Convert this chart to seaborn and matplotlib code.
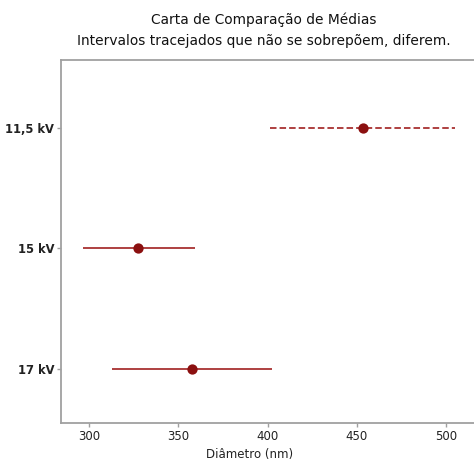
import matplotlib
matplotlib.use("Agg")
import matplotlib.pyplot as plt
import seaborn as sns
import pandas as pd

# Mean fibre diameter per voltage with confidence intervals
groups = ["11,5 kV", "15 kV", "17 kV"]
means = [453.2, 327.6, 357.4]
lower = [401.6, 296.8, 312.6]
upper = [505.2, 359.2, 402.6]
styles = [(0, (3.6, 1.7)), "-", "-"]

df = pd.DataFrame({"grupo": groups, "media": means, "inf": lower, "sup": upper})

sns.set_theme(style="white")
plt.rcParams["font.family"] = ["DejaVu Sans"]

fig = plt.figure(figsize=(4.74, 4.62), dpi=100)
ax = fig.add_axes([0.1287, 0.0844, 0.8713, 0.7856])

line_color = "#a83232"
point_color = "#8b1010"

ypos = list(range(len(groups)))
for y, lo, hi, ls in zip(ypos, df["inf"], df["sup"], styles):
    ax.hlines(y, lo, hi, colors=line_color, linestyles=[ls], linewidth=1.3,
              zorder=2)

sns.scatterplot(x=df["media"], y=ypos, ax=ax, color=point_color, s=55,
                edgecolor=point_color, linewidth=0, zorder=3, legend=False)

ax.set_yticks(ypos)
ax.set_yticklabels(groups, fontsize=8.3, fontweight="bold", color="#222222")
ax.set_ylim(2.45, -0.565)
ax.set_xlim(284.3, 515.6)
ax.set_xticks([300, 350, 400, 450, 500])
ax.set_xticklabels(["300", "350", "400", "450", "500"], fontsize=8.5,
                   color="#222222")
ax.set_xlabel("Diâmetro (nm)", fontsize=8.5, color="#222222", labelpad=2)
ax.xaxis.set_label_coords(0.456, -0.068)
ax.set_ylabel("")

for side in ["left", "bottom", "top"]:
    ax.spines[side].set_color("#a0a0a0")
    ax.spines[side].set_linewidth(1.3)
ax.spines["right"].set_visible(False)
ax.tick_params(axis="both", which="major", length=3, width=1,
               color="#a0a0a0", pad=2, left=True, bottom=True)

fig.text(0.557, 0.958, "Carta de Comparação de Médias", ha="center",
         va="center", fontsize=9.9, color="#111111")
fig.text(0.557, 0.912, "Intervalos tracejados que não se sobrepõem, diferem.",
         ha="center", va="center", fontsize=9.9, color="#111111")

fig.savefig("out.png", dpi=100)
